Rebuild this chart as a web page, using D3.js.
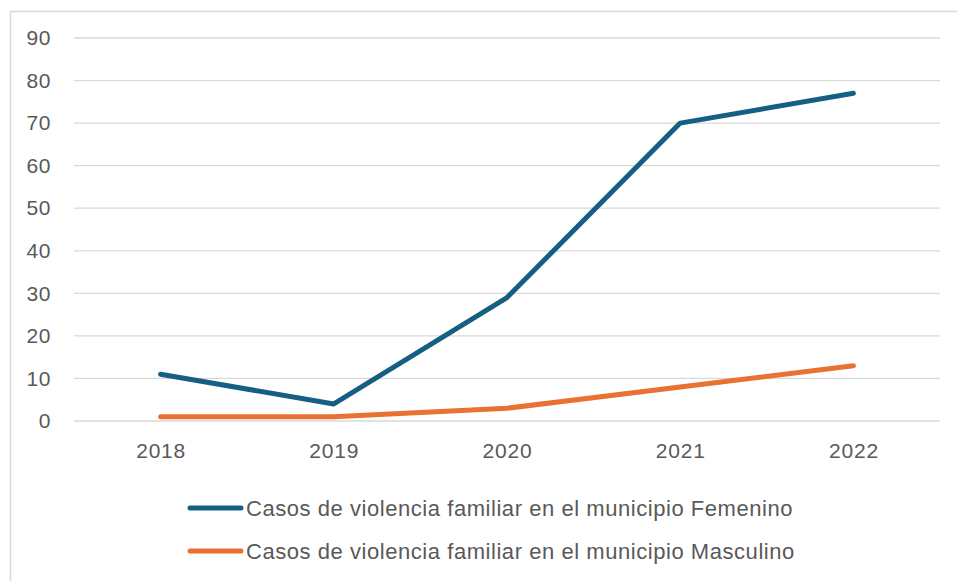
<!DOCTYPE html>
<html>
<head>
<meta charset="utf-8">
<script src="https://cdn.jsdelivr.net/npm/d3@7"></script>
<style>
body { margin: 0; background: #fff; }
text { font-family: "Liberation Sans", Arial, sans-serif; fill: #595959; }
</style>
</head>
<body>
<script>
var width = 957,
	height = 581;

var years = ["2018", "2019", "2020", "2021", "2022"];
var femenino = [11, 4, 29, 70, 77];
var masculino = [1, 1, 3, 8, 13];
var yTicks = [0, 10, 20, 30, 40, 50, 60, 70, 80, 90];
var seriesNames = ["Casos de violencia familiar en el municipio Femenino", "Casos de violencia familiar en el municipio Masculino"];
var colors = ["#156082", "#E97132"];

var svg = d3.select("body").append("svg").attr("width", width).attr("height", height)

svg.append("rect")
	.attr("x", 10.5).attr("y", 11.5)
	.attr("width", 980).attr("height", 600)
	.style("fill", "none")
	.style("stroke", "#d9d9d9")
	.style("stroke-width", 1.5)

var X = d3.scalePoint().domain(years).range([74, 940]).padding(0.5);
var Y = d3.scaleLinear().domain([0, 90]).range([421, 38]);

// gridlines
svg.selectAll(".grid").data(yTicks).enter().append("line").attr("class", "grid")
	.attr("x1", 74).attr("x2", 940)
	.attr("y1", function(d) { return Y(d) })
	.attr("y2", function(d) { return Y(d) })
	.style("stroke", "#d9d9d9")
	.style("stroke-width", 1.3)

// y axis labels
var yAxis = svg.append("g").attr("transform", "translate(51,0)")
	.call(d3.axisLeft(Y).tickValues(yTicks).tickSize(0).tickPadding(0))
yAxis.select(".domain").remove()
yAxis.selectAll("text").style("font-size", "21px").style("fill", "#595959")
	.style("letter-spacing", "0.6px")
	.style("font-family", "Liberation Sans, Arial, sans-serif")

// x axis labels
var xAxis = svg.append("g").attr("transform", "translate(0,443)")
	.call(d3.axisBottom(X).tickSize(0).tickPadding(0))
xAxis.select(".domain").remove()
xAxis.selectAll("text").style("font-size", "21px").style("fill", "#595959")
	.style("letter-spacing", "0.8px")
	.style("font-family", "Liberation Sans, Arial, sans-serif")

var line = d3.line()
	.x(function(d, i) { return X(years[i]) })
	.y(function(d) { return Y(d) })

var series = [femenino, masculino];

svg.selectAll(".serie").data(series).enter().append("path").attr("class", "serie")
	.attr("d", function(d) { return line(d) })
	.style("fill", "none")
	.style("stroke", function(d, i) { return colors[i] })
	.style("stroke-width", 5)
	.style("stroke-linecap", "round")
	.style("stroke-linejoin", "round")

// legend
var legend = svg.selectAll(".legend").data(seriesNames).enter().append("g").attr("class", "legend")
	.attr("transform", function(d, i) { return "translate(0," + (508 + i * 43) + ")" })

legend.append("line")
	.attr("x1", 190).attr("x2", 241).attr("y1", 0).attr("y2", 0)
	.style("stroke", function(d, i) { return colors[i] })
	.style("stroke-width", 5)
	.style("stroke-linecap", "round")

legend.append("text")
	.attr("x", 246).attr("y", 8)
	.style("font-size", "22px")
	.style("letter-spacing", "0.55px")
	.text(function(d) { return d })
</script>
</body>
</html>
